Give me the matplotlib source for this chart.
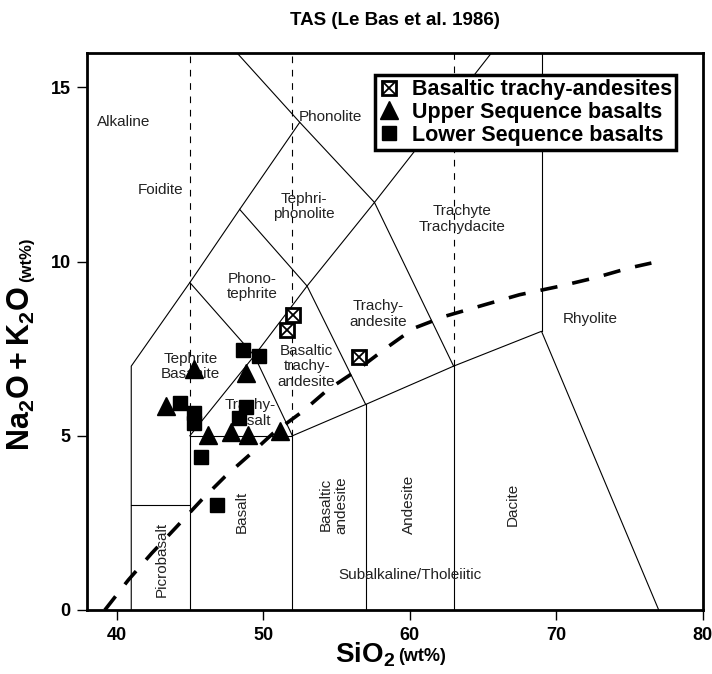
import matplotlib
matplotlib.use("Agg")
import matplotlib.pyplot as plt
from matplotlib.lines import Line2D

plt.rcParams['font.family'] = ['Liberation Sans', 'DejaVu Sans']
plt.rcParams['mathtext.fontset'] = 'custom'
plt.rcParams['mathtext.rm'] = 'Liberation Sans'
plt.rcParams['mathtext.bf'] = 'Liberation Sans:bold'

# sample data (SiO2, Na2O+K2O in wt%)
bta_sio2 = [52.05, 51.65, 56.55]
bta_alk = [8.47, 8.03, 7.27]
upper_sio2 = [45.25, 48.8, 43.4, 46.25, 47.8, 49.0, 51.15]
upper_alk = [6.92, 6.8, 5.85, 5.02, 5.12, 5.03, 5.15]
lower_sio2 = [48.64, 49.73, 44.32, 45.29, 45.29, 48.82, 48.36, 45.73, 46.82]
lower_alk = [7.45, 7.30, 5.94, 5.65, 5.38, 5.84, 5.51, 4.39, 3.02]

# TAS field boundaries (Le Bas et al. 1986)
tas_lines = [
    [(41, 0), (41, 7), (45, 9.4), (48.4, 11.5), (52.5, 14), (48.2, 16)],
    [(41, 3), (45, 3)],
    [(45, 0), (45, 5), (52, 5), (52, 0)],
    [(45, 5), (49.4, 7.3), (52, 5)],
    [(52, 5), (57, 5.9), (63, 7), (69, 8), (77, 0)],
    [(57, 0), (57, 5.9)],
    [(63, 0), (63, 7)],
    [(45, 9.4), (49.4, 7.3), (53, 9.3), (57, 5.9)],
    [(48.4, 11.5), (53, 9.3), (57.6, 11.7), (63, 7)],
    [(52.5, 14), (57.6, 11.7), (65.6, 16)],
    [(69, 8), (69, 16)],
]
dashed_verticals = [(45, 5), (52, 5), (63, 7)]

# alkaline / subalkaline divide
alk_sio2 = [39.2, 40.8, 42.4, 44.1, 45.8, 47.4, 49.2, 50.7, 52.7, 54.4, 56.3, 58.4, 60.3, 62.4, 65.1, 67.5, 70.2, 72.6, 75.0, 76.5]
alk_alk = [0, 0.86, 1.63, 2.39, 3.16, 3.83, 4.5, 5.08, 5.7, 6.32, 6.85, 7.52, 8.09, 8.43, 8.76, 9.05, 9.29, 9.53, 9.82, 9.96]

# field labels: text, x, y, rotation
field_labels = [
    ("Alkaline", 40.5, 14.0, 0),
    ("Foidite", 43.0, 12.07, 0),
    ("Phonolite", 54.6, 14.14, 0),
    ("Tephri-\nphonolite", 52.8, 11.58, 0),
    ("Trachyte\nTrachydacite", 63.6, 11.22, 0),
    ("Phono-\ntephrite", 49.24, 9.29, 0),
    ("Trachy-\nandesite", 57.82, 8.5, 0),
    ("Rhyolite", 72.3, 8.36, 0),
    ("Tephrite\nBasanite", 45.03, 6.99, 0),
    ("Basaltic\ntrachy-\nandesite", 52.97, 6.99, 0),
    ("Trachy-\nbasalt", 49.1, 5.65, 0),
    ("Picrobasalt", 43.06, 1.44, 90),
    ("Basalt", 48.57, 2.83, 90),
    ("Basaltic\nandesite", 54.83, 3.02, 90),
    ("Andesite", 59.95, 3.02, 90),
    ("Dacite", 67.03, 3.02, 90),
    ("Subalkaline/Tholeiitic", 60.03, 1.0, 0),
]

fig = plt.figure(figsize=(7.12, 6.74), dpi=100)
ax = fig.add_axes([0.1226, 0.095, 0.8643, 0.8269])

for seg in tas_lines:
    xs, ys = zip(*seg)
    ax.plot(xs, ys, color='black', lw=0.8, zorder=1)
for xv, y0 in dashed_verticals:
    ax.plot([xv, xv], [y0, 16], color='black', lw=0.8, dashes=(6, 6), zorder=1)
ax.plot(alk_sio2, alk_alk, color='black', lw=2.6, dashes=(4.8, 4.2), zorder=1)

for txt, x, y, rot in field_labels:
    ax.text(x, y, txt, ha='center', va='center', rotation=rot, fontsize=11,
            color='#222222', linespacing=1.15, zorder=2)

# data points
ax.plot(lower_sio2, lower_alk, 's', ms=10, color='black', ls='none', zorder=3)
ax.plot(upper_sio2, upper_alk, '^', ms=12.5, color='black', ls='none', zorder=3)
ax.plot(bta_sio2, bta_alk, 's', ms=10, mfc='white', mec='black', mew=2, ls='none', zorder=4)
ax.plot(bta_sio2, bta_alk, 'x', ms=10, color='black', mew=1.3, ls='none', zorder=5)

h_bta = (Line2D([], [], marker='s', ms=10, mfc='white', mec='black', mew=2, ls='none'),
         Line2D([], [], marker='x', ms=10, color='black', mew=1.3, ls='none'))
h_up = Line2D([], [], marker='^', ms=12.5, color='black', ls='none')
h_low = Line2D([], [], marker='s', ms=10, color='black', ls='none')
leg = ax.legend([h_bta, h_up, h_low],
                ['Basaltic trachy-andesites', 'Upper Sequence basalts', 'Lower Sequence basalts'],
                loc='upper left', bbox_to_anchor=(0.4675, 0.96), borderaxespad=0,
                prop={'weight': 'bold', 'size': 15.5}, fancybox=False, framealpha=1,
                edgecolor='black', handlelength=0.9, handletextpad=0.6,
                labelspacing=0.08, borderpad=0.2)
leg.get_frame().set_linewidth(2.5)

ax.set_xlim(38, 80)
ax.set_ylim(0, 16)
ax.set_xticks([40, 50, 60, 70, 80])
ax.set_yticks([0, 5, 10, 15])
ax.tick_params(direction='out', length=7, width=1, labelsize=13, pad=5,
               top=False, right=False)
for lbl in ax.get_xticklabels() + ax.get_yticklabels():
    lbl.set_fontweight('bold')
for sp in ax.spines.values():
    sp.set_linewidth(2)

# axis labels with smaller units
fig.text(0.555, 0.008, r"$\mathbf{SiO_2}$", fontsize=20, ha='right', va='bottom')
fig.text(0.559, 0.014, "(wt%)", fontsize=13, fontweight='bold', ha='left', va='bottom')
fig.text(0.03, 0.575, r"$\mathbf{Na_2O + K_2O}$", fontsize=22, rotation=90,
         ha='center', va='top')
fig.text(0.037, 0.582, "(wt%)", fontsize=12, fontweight='bold', rotation=90,
         ha='center', va='bottom')

fig.text(0.555, 0.97, "TAS (Le Bas et al. 1986)", fontsize=13.5, fontweight='bold',
         ha='center', va='center')

fig.savefig("out.png", dpi=100)
